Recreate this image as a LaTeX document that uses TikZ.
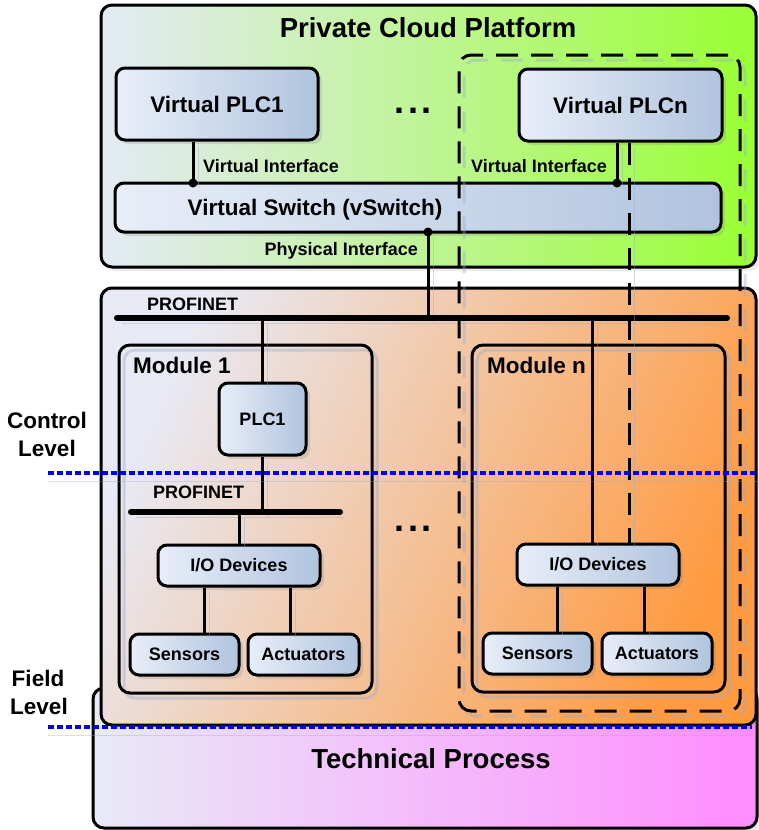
\documentclass[tikz,border=0pt]{standalone}
\usepackage{fontspec}
\setmainfont{Liberation Sans}
\usetikzlibrary{shadows}
\definecolor{boxL}{HTML}{E8EEF8}
\definecolor{boxR}{HTML}{B0C4DF}
\definecolor{cloudL}{HTML}{E4EAF6}
\definecolor{cloudR}{HTML}{99FF33}
\definecolor{fieldL}{HTML}{E8EAF5}
\definecolor{fieldR}{HTML}{FF9A40}
\definecolor{techL}{HTML}{E8EAF6}
\definecolor{techR}{HTML}{FF8CFF}
\definecolor{shadc}{HTML}{96AACD}
\definecolor{lvlblue}{HTML}{0000F5}
\newcommand\fsz[1]{\fontsize{#1}{#1}\selectfont\bfseries}
\begin{document}
\begin{tikzpicture}[x=1pt,y=-1pt,
  lw/.style={line width=3pt},
  shl/.style={preaction={draw=shadc, opacity=0.4, transform canvas={shift={(5pt,-5pt)}}}},
  box/.style={draw, lw, rounded corners=9pt, left color=boxL, right color=boxR, inner sep=0pt,
     drop shadow={shadow xshift=4pt, shadow yshift=-4pt, opacity=0.22}},
  bigbox/.style={draw, lw, rounded corners=11pt, inner sep=0pt,
     drop shadow={shadow xshift=4pt, shadow yshift=-4pt, opacity=0.15}},
  modbox/.style={draw, lw, rounded corners=11pt, inner sep=0pt, shl},
  t18/.style={font=\fsz{18}},
  t22/.style={font=\fsz{22.5}},
  t27/.style={font=\fsz{27.5}},
  conn/.style={lw, shl},
  bus/.style={line width=6pt, line cap=round, shl},
  dashline/.style={lw, dash pattern=on 22pt off 13pt, shl},
  lvl/.style={draw=lvlblue, line width=3.5pt, dash pattern=on 6pt off 3pt,
     preaction={draw=shadc, opacity=0.35, transform canvas={shift={(0pt,-8pt)}}}},
  dots/.style={font=\fsz{36}, anchor=base},
]
\useasboundingbox (0,0) rectangle (759,830);

% large areas
\node[bigbox, left color=techL, right color=techR, minimum width=664pt, minimum height=140pt] (tech) at (425,758) {};
\node[bigbox, top color=fieldL, bottom color=fieldR, shading angle=65, minimum width=655pt, minimum height=437pt] (field) at (428.5,506.5) {};
\node[bigbox, left color=cloudL, right color=cloudR, minimum width=655pt, minimum height=262pt] (cloud) at (428.5,136) {};

% modules
\node[modbox, minimum width=253pt, minimum height=348pt] (mod1) at (245.5,519) {};
\node[modbox, minimum width=253pt, minimum height=347pt] (modn) at (598.5,518.5) {};

% component boxes
\node[box, t22, minimum width=202pt, minimum height=72pt] (vplc1) at (217,104) {Virtual PLC1};
\node[box, t22, minimum width=203pt, minimum height=72pt] (vplcn) at (620.5,105) {Virtual PLCn};
\node[box, minimum width=606pt, minimum height=49pt] (vswitch) at (418,207.5) {};
\node[box, t18, minimum width=87pt, minimum height=72pt] (plc1) at (262.5,419) {PLC1};
\node[box, t18, minimum width=162pt, minimum height=41pt] (io1) at (239,565.5) {I/O Devices};
\node[box, t18, minimum width=109pt, minimum height=41pt] (sens1) at (184.5,654.5) {Sensors};
\node[box, t18, minimum width=111pt, minimum height=41pt] (act1) at (303.5,654.5) {Actuators};
\node[box, t18, minimum width=162pt, minimum height=41pt] (ion) at (598,564.5) {I/O Devices};
\node[box, t18, minimum width=109pt, minimum height=41pt] (sensn) at (537.5,653.5) {Sensors};
\node[box, t18, minimum width=110pt, minimum height=41pt] (actn) at (657,653.5) {Actuators};

% coordinates
\coordinate (vi1) at (193,183);
\coordinate (vin) at (617,183);
\coordinate (pif) at (428,232);
\coordinate (busL) at (117,318);
\coordinate (busR) at (727,318);
\coordinate (bus2L) at (131,512);
\coordinate (bus2R) at (340,512);
\coordinate (tapn) at (592,318);
\coordinate (dn) at (629,0);
\coordinate (s1x) at (204,0);
\coordinate (a1x) at (290,0);
\coordinate (snx) at (557,0);
\coordinate (anx) at (644,0);

% connectors
\draw[conn] (vplc1.south -| vi1) -- (vi1);
\draw[conn] (vplcn.south -| vin) -- (vin);
\draw[conn] (pif) -- (pif |- busL);
\draw[bus] (busL) -- (busR);
\draw[conn] (plc1.north) -- (plc1.north |- busL);
\draw[conn] (plc1.south) -- (plc1.south |- bus2L);
\draw[bus] (bus2L) -- (bus2R);
\draw[conn] (io1.north) -- (io1.north |- bus2L);
\draw[conn] (io1.south -| s1x) -- (sens1.north -| s1x);
\draw[conn] (io1.south -| a1x) -- (act1.north -| a1x);
\draw[conn] (tapn) -- (tapn |- ion.north);
\draw[conn] (ion.south -| snx) -- (sensn.north -| snx);
\draw[conn] (ion.south -| anx) -- (actn.north -| anx);
\fill (vi1) circle (4.5);
\fill (vin) circle (4.5);
\fill (pif) circle (4.5);

% dashed group
\node[draw, lw, dash pattern=on 22pt off 13pt, rounded corners=12pt, inner sep=0pt,
      minimum width=281pt, minimum height=656pt, shl] (grp) at (599.5,383) {};
\draw[dashline] (vplcn.south -| dn) -- (ion.north -| dn);

% level lines
\coordinate (c1) at (48,473);
\coordinate (c2) at (759,473);
\coordinate (f1) at (48,727);
\coordinate (f2) at (752,727);
\draw[lvl] (c1) -- (c2);
\draw[lvl] (f1) -- (f2);

% texts
\node[t27, anchor=base] (title) at (428,37) {Private Cloud Platform};
\node[t22, anchor=base] (vstxt) at (315,215) {Virtual Switch (vSwitch)};
\node[t18, anchor=base west, inner sep=0pt] (vil) at (203,172) {Virtual Interface};
\node[t18, anchor=base east, inner sep=0pt] (vir) at (607,172) {Virtual Interface};
\node[t18, anchor=base east, inner sep=0pt] (pil) at (418,255) {Physical Interface};
\node[t18, anchor=base west, inner sep=0pt] (pn1) at (147,310) {PROFINET};
\node[t18, anchor=base west, inner sep=0pt] (pn2) at (153,498) {PROFINET};
\node[t22, anchor=base west, inner sep=0pt] (m1t) at (133,373) {Module 1};
\node[t22, anchor=base west, inner sep=0pt] (mnt) at (487,373) {Module n};
\node[t22, anchor=base] (ctl1) at (47,428) {Control};
\node[t22, anchor=base] (ctl2) at (47,456) {Level};
\node[t22, anchor=base] (fl1) at (38,686) {Field};
\node[t22, anchor=base] (fl2) at (39,714) {Level};
\node[t27, anchor=base] (techt) at (431,768) {Technical Process};
\node[dots] (dots1) at (413,113) {.\hspace{3.5pt}.\hspace{3.5pt}.};
\node[dots] (dots2) at (413,531) {.\hspace{3.5pt}.\hspace{3.5pt}.};
\end{tikzpicture}
\end{document}
